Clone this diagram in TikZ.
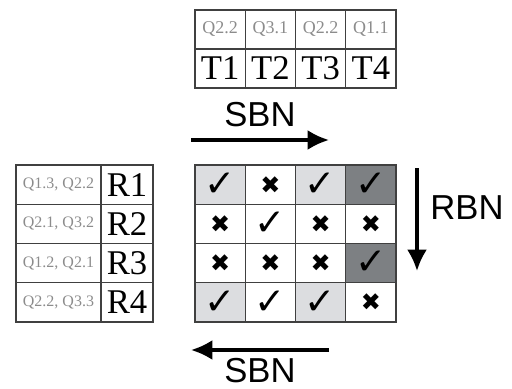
\documentclass[tikz,border=0pt]{standalone}
\usepackage{fontspec}
\setmainfont{Liberation Serif}
\setsansfont{Liberation Sans}
\newfontfamily\symfont{DejaVu Sans}
\usetikzlibrary{arrows.meta}
\definecolor{lite}{RGB}{220,221,224}
\definecolor{dark}{RGB}{125,128,131}
\definecolor{qgray}{RGB}{140,140,140}
\newcommand{\yes}{{\symfont\bfseries\fontsize{28}{28}\selectfont ✓}}
\newcommand{\nope}{{\symfont\fontsize{18}{18}\selectfont ✖}}
\tikzset{
	cell/.style  = {shape=rectangle, draw=black!75, line width=0.8pt,
		inner sep=0pt, minimum width=37.7pt, minimum height=29.4pt},
	qlabel/.style = {cell, font=\fontsize{13.5}{14}\selectfont, text=qgray},
	tlabel/.style = {cell, font=\fontsize{26}{26}\selectfont},
	dir/.style   = {line width=2.6pt, -{Latex[length=16pt,width=15pt]}},
	dirtext/.style = {inner sep=0pt, font=\sffamily\fontsize{26}{26}\selectfont}
}
\begin{document}
\begin{tikzpicture}[x=0.75pt, y=-0.75pt]
	\useasboundingbox (0,0) rectangle (512,389);
	% top table: questions and tasks
	\foreach \q/\t [count=\i] in {Q2.2/T1, Q3.1/T2, Q2.2/T3, Q1.1/T4}{
		\node [qlabel, minimum height=29.25pt] (q\i) at ({195+50.25*(\i-0.5)}, 29.5) {\q};
		\node [tlabel, minimum height=29.25pt] (t\i) at ({195+50.25*(\i-0.5)}, 68.5) {\t};
	}
	% left table: questions and resources
	\foreach \q/\r [count=\i] in {{Q1.3, Q2.2}/R1, {Q2.1, Q3.2}/R2, {Q1.2, Q2.1}/R3, {Q2.2, Q3.3}/R4}{
		\node [qlabel, minimum width=63.75pt, font=\fontsize{12}{12}\selectfont] (p\i) at (58.5, {165+39.25*(\i-0.5)}) {\q};
		\node [tlabel, minimum width=39pt] (r\i) at (127, {165+39.25*(\i-0.5)}) {\r};
	}
	% match grid
	\foreach \f/\m [count=\i from 0] in {
		lite/\yes, white/\nope, lite/\yes, dark/\yes,
		white/\nope, white/\yes, white/\nope, white/\nope,
		white/\nope, white/\nope, white/\nope, dark/\yes,
		lite/\yes, white/\yes, lite/\yes, white/\nope}{
		\pgfmathtruncatemacro{\row}{int(\i/4)}
		\pgfmathtruncatemacro{\col}{mod(\i,4)}
		\node [cell, fill=\f] (g\row\col) at ({195+50.25*(\col+0.5)}, {165+39.25*(\row+0.5)}) {\m};
	}
	% direction arrows
	\coordinate (sbnA) at (191,140);
	\coordinate (sbnB) at (329,140);
	\coordinate (rbnA) at (417,168);
	\coordinate (rbnB) at (417,271);
	\coordinate (sbnC) at (329,350);
	\coordinate (sbnD) at (191,350);
	\draw [dir] (sbnA) -- (sbnB);
	\draw [dir] (rbnA) -- (rbnB);
	\draw [dir] (sbnC) -- (sbnD);
	\node [dirtext] (sbntop) at (260,115) {SBN};
	\node [dirtext] (rbn) at (467,208) {RBN};
	\node [dirtext] (sbnbot) at (260,371) {SBN};
\end{tikzpicture}
\end{document}
